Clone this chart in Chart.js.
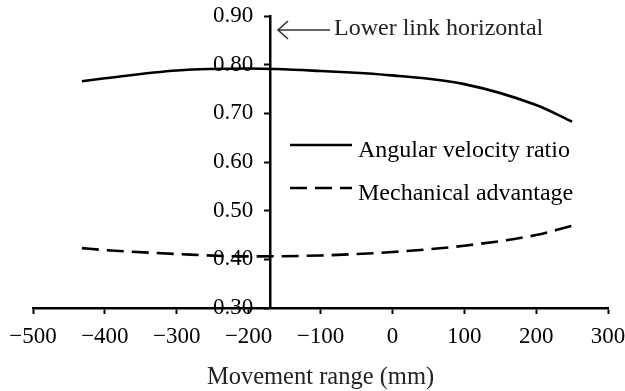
<!DOCTYPE html>
<html><head><meta charset="utf-8">
<script src="https://cdn.jsdelivr.net/npm/chart.js@4"></script>
<style>html,body{margin:0;padding:0;background:#fff}#wrap{width:625px;height:391px;position:relative}</style>
</head><body><div id="wrap"><canvas id="c"></canvas></div>
<script>
const movement = [-432, -400, -300, -200, -100, 0, 100, 200, 250];
const angularVelocityRatio = [0.766, 0.772, 0.788, 0.792, 0.787, 0.778, 0.760, 0.717, 0.683];
const mechanicalAdvantage = [0.423, 0.419, 0.411, 0.406, 0.408, 0.415, 0.428, 0.450, 0.469];
const xTickValues = [-500, -400, -300, -200, -100, 0, 100, 200, 300];
const yTickValues = [0.30, 0.40, 0.50, 0.60, 0.70, 0.80, 0.90];
const lowerLinkX = -170;
const seriesNames = ['Angular velocity ratio', 'Mechanical advantage'];
const annotationText = 'Lower link horizontal';
const xTitle = 'Movement range (mm)';

const FONT = 'Liberation Serif';
const toPts = ys => movement.map((x, i) => ({x, y: ys[i]}));
const DASH = [17, 8];

const yLabelShift = {
  id: 'yLabelShift',
  beforeDraw(chart) {
    const s = chart.scales.y;
    s.getLabelItems(chart.chartArea).forEach(it => {
      if (!it._shifted) { it.options.translation[0] -= 17; it._shifted = true; }
    });
  }
};

const legendPlugin = {
  id: 'customLegend',
  afterDraw(chart) {
    const ctx = chart.ctx;
    ctx.save();
    ctx.strokeStyle = '#333';
    ctx.lineWidth = 1.6;
    ctx.beginPath();
    ctx.moveTo(278, 30); ctx.lineTo(330, 30);
    ctx.moveTo(288, 21); ctx.lineTo(278, 30); ctx.lineTo(288, 39);
    ctx.stroke();
    ctx.fillStyle = '#222';
    ctx.font = '24px ' + FONT;
    ctx.textBaseline = 'alphabetic';
    ctx.textAlign = 'left';
    ctx.fillText(annotationText, 334, 35);
    ctx.strokeStyle = '#000';
    ctx.lineWidth = 2.5;
    ctx.beginPath(); ctx.moveTo(290, 145); ctx.lineTo(352, 145); ctx.stroke();
    ctx.setLineDash(DASH);
    ctx.beginPath(); ctx.moveTo(290, 188); ctx.lineTo(352, 188); ctx.stroke();
    ctx.setLineDash([]);
    ctx.fillStyle = '#000';
    ctx.fillText(seriesNames[0], 358, 157);
    ctx.fillText(seriesNames[1], 358, 200);
    ctx.restore();
  }
};

new Chart(document.getElementById('c'), {
  type: 'scatter',
  data: {
    datasets: [
      {label: seriesNames[0], data: toPts(angularVelocityRatio), showLine: true, borderColor: '#000', borderWidth: 2.6, pointRadius: 0, cubicInterpolationMode: 'monotone', fill: false},
      {label: seriesNames[1], data: toPts(mechanicalAdvantage), showLine: true, borderColor: '#000', borderWidth: 2.6, borderDash: DASH, pointRadius: 0, cubicInterpolationMode: 'monotone', fill: false}
    ]
  },
  options: {
    responsive: true,
    maintainAspectRatio: false,
    animation: false,
    events: [],
    layout: {padding: {left: 33, right: 17, top: 16, bottom: 1}},
    plugins: {legend: {display: false}, tooltip: {enabled: false}},
    scales: {
      x: {
        type: 'linear', position: 'bottom', min: -500, max: 300,
        afterBuildTicks: s => { s.ticks = xTickValues.map(v => ({value: v})); },
        afterFit: s => { s.paddingLeft = 0; s.paddingRight = 0; s.paddingTop = 0; s.paddingBottom = 0; s.height = 82; },
        ticks: {color: '#000', font: {family: FONT, size: 23}, padding: 9, maxRotation: 0,
          callback: v => String(v).replace('-', '\u2212')},
        grid: {drawOnChartArea: false, drawTicks: true, tickLength: 6, tickWidth: 2, tickColor: '#000'},
        border: {display: true, color: '#000', width: 2.5},
        title: {display: true, text: xTitle, color: '#222', font: {family: FONT, size: 24.5, lineHeight: 1}, padding: {top: 1, bottom: 0}}
      },
      y: {
        type: 'linear', position: {x: lowerLinkX}, min: 0.3, max: 0.9,
        afterBuildTicks: s => { s.ticks = yTickValues.map(v => ({value: v})); },
        afterFit: s => { s.paddingLeft = 0; s.paddingRight = 0; s.paddingTop = 0; s.paddingBottom = 0; },
        ticks: {color: '#000', font: {family: FONT, size: 23}, padding: 14,
          callback: v => Number(v).toFixed(2)},
        grid: {drawOnChartArea: false, drawTicks: true, tickLength: 5, tickWidth: 2, tickColor: '#000'},
        border: {display: true, color: '#000', width: 2.5}
      }
    }
  },
  plugins: [yLabelShift, legendPlugin]
});
</script></body></html>
